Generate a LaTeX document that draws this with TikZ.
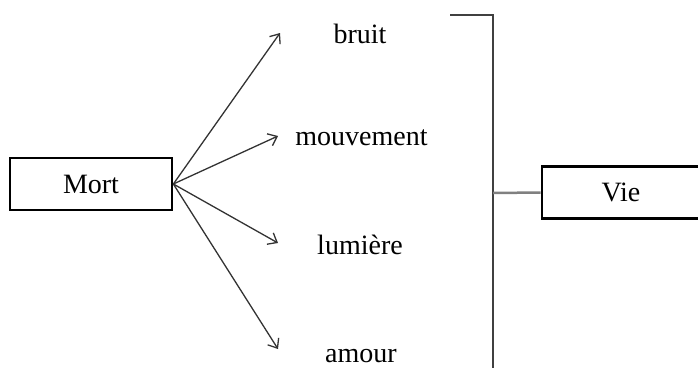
\documentclass[tikz,border=0pt]{standalone}
\usepackage{fontspec}
\setmainfont{Liberation Serif}
\usetikzlibrary{arrows.meta}
\tikzset{
  wordbox/.style={draw=black, line width=2.7pt, minimum height=52pt, inner sep=0pt, font=\fontsize{28}{32}\selectfont},
  word/.style={anchor=base, inner sep=0pt, font=\fontsize{28}{32}\selectfont},
  fan/.style={draw=black!80, line width=1.3pt, -{Straight Barb[length=8pt,width=13pt,line width=1.3pt]}},
  brack/.style={draw=black!75, line width=2pt},
  link/.style={draw=black!50, line width=2.5pt}
}
\begin{document}
\begin{tikzpicture}[x=1pt,y=-1pt]
\useasboundingbox (0,0) rectangle (698,367);
\clip (0,0) rectangle (698,367);
\node[wordbox, minimum width=162pt] (mort) at (91,184) {Mort};
\node[wordbox, minimum width=158pt] (vie) at (621,192.5) {Vie};
\node[word] (bruit) at (360,43) {bruit};
\node[word] (mouv) at (361.5,145) {mouvement};
\node[word] (lum) at (360,254) {lumière};
\node[word] (amour) at (361,362) {amour};
\coordinate (t1) at (280,33);
\coordinate (t2) at (278,136);
\coordinate (t3) at (278,243);
\coordinate (t4) at (278,349);
\draw[fan] (mort.east) -- (t1);
\draw[fan] (mort.east) -- (t2);
\draw[fan] (mort.east) -- (t3);
\draw[fan] (mort.east) -- (t4);
\coordinate (bl) at (450,15);
\coordinate (bc) at (493,15);
\coordinate (bb) at (493,372);
\coordinate (bm) at (493,193);
\draw[brack] (bl) -- (bc) -- (bb);
\draw[link] (bm) -- (vie.west);
\end{tikzpicture}
\end{document}
